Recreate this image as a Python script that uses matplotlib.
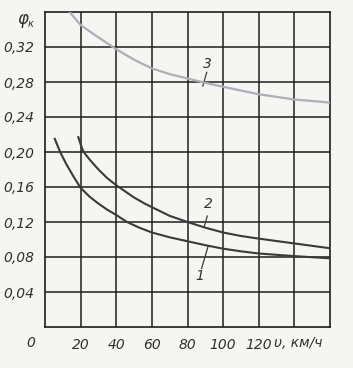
import matplotlib
matplotlib.use("Agg")
import matplotlib.pyplot as plt
from matplotlib import font_manager as fm

# ---- data ----
v1 = [5.5, 8.5, 12, 16, 20, 25, 30, 35, 40, 46, 53, 60, 70, 80, 90, 100, 110, 120, 140, 160]
phi1 = [0.215, 0.200, 0.186, 0.172, 0.159, 0.149, 0.141, 0.134, 0.128, 0.120, 0.1135, 0.108,
        0.1025, 0.098, 0.0935, 0.0895, 0.0865, 0.084, 0.081, 0.0785]

v2 = [18.7, 20.2, 21.7, 25, 30, 35, 40, 50, 56, 60, 70, 80, 90, 100, 110, 120, 140, 160]
phi2 = [0.217, 0.2075, 0.200, 0.1915, 0.180, 0.170, 0.162, 0.148, 0.141, 0.137, 0.127, 0.120,
        0.1135, 0.108, 0.104, 0.101, 0.0955, 0.090]

v3 = [13.8, 20, 30, 37, 40, 50, 60, 70, 80, 88, 100, 120, 140, 160]
phi3 = [0.360, 0.345, 0.331, 0.3215, 0.3175, 0.3055, 0.2955, 0.289, 0.284, 0.280, 0.2745,
        0.266, 0.260, 0.2565]

x_ticks = [20, 40, 60, 80, 100, 120]
x_tick_labels = ["20", "40", "60", "80", "100", "120"]
y_ticks = [0.04, 0.08, 0.12, 0.16, 0.20, 0.24, 0.28, 0.32]
y_tick_labels = ["0,04", "0,08", "0,12", "0,16", "0,20", "0,24", "0,28", "0,32"]
curve_labels = ["1", "2", "3"]

# ---- font ----
avail = {f.name for f in fm.fontManager.ttflist}
fam = ["Liberation Sans Narrow", "DejaVu Sans"] if "Liberation Sans Narrow" in avail else ["DejaVu Sans"]
plt.rcParams["font.family"] = fam

BG = "#f5f5f2"
INK = "#1e1e1e"
TXT = "#303030"

fig = plt.figure(figsize=(3.53, 3.68), dpi=100, facecolor=BG)
ax = fig.add_axes([45 / 353, 1 - 327 / 368, 285 / 353, 315 / 368], facecolor=BG)

ax.set_xlim(0, 160)
ax.set_ylim(0, 0.36)

for x in range(20, 160, 20):
    ax.axvline(x, color=INK, lw=1.1, zorder=1)
for y in y_ticks:
    ax.axhline(y, color=INK, lw=1.1, zorder=1)
for s in ax.spines.values():
    s.set_color(INK)
    s.set_linewidth(1.2)

ax.plot(v1, phi1, color="#3a3a3a", lw=1.5, zorder=3)
ax.plot(v2, phi2, color="#3a3a3a", lw=1.5, zorder=3)
ax.plot(v3, phi3, color="#b0acba", lw=1.6, zorder=3)

ax.set_xticks(x_ticks)
ax.set_xticklabels(x_tick_labels, fontsize=10, style="italic", color=TXT)
ax.set_yticks(y_ticks)
ax.set_yticklabels(y_tick_labels, fontsize=10, style="italic", color=TXT)
ax.tick_params(axis="both", length=0)
ax.tick_params(axis="x", pad=8)
ax.tick_params(axis="y", pad=8)

# origin label and axis names
ax.text(-0.035, -0.05, "0", transform=ax.transAxes, ha="right", va="center",
        fontsize=10, style="italic", color=TXT)
ax.text(0.89, -0.05, "υ, км/ч", transform=ax.transAxes, ha="center", va="center",
        fontsize=10, style="italic", color=TXT)
ax.text(-0.06, 0.978, "φ", transform=ax.transAxes, ha="right", va="center",
        fontsize=12, style="italic", color=TXT)
ax.text(-0.062, 0.962, "к", transform=ax.transAxes, ha="left", va="center",
        fontsize=7, style="italic", color=TXT)

# curve labels with leader ticks
ax.text(86.8, 0.0588, curve_labels[0], ha="center", va="center", fontsize=10,
        style="italic", color=TXT)
ax.plot([87.9, 91.5], [0.0668, 0.0917], color="#3a3a3a", lw=0.9)
ax.text(91.7, 0.140, curve_labels[1], ha="center", va="center", fontsize=10,
        style="italic", color=TXT)
ax.plot([91.1, 89.4], [0.1268, 0.1148], color="#3a3a3a", lw=0.9)
ax.text(91.2, 0.301, curve_labels[2], ha="center", va="center", fontsize=10,
        style="italic", color=TXT)
ax.plot([90.8, 88.6], [0.291, 0.2755], color="#3a3a3a", lw=0.9)

fig.savefig("out.png", dpi=100, facecolor=BG)
